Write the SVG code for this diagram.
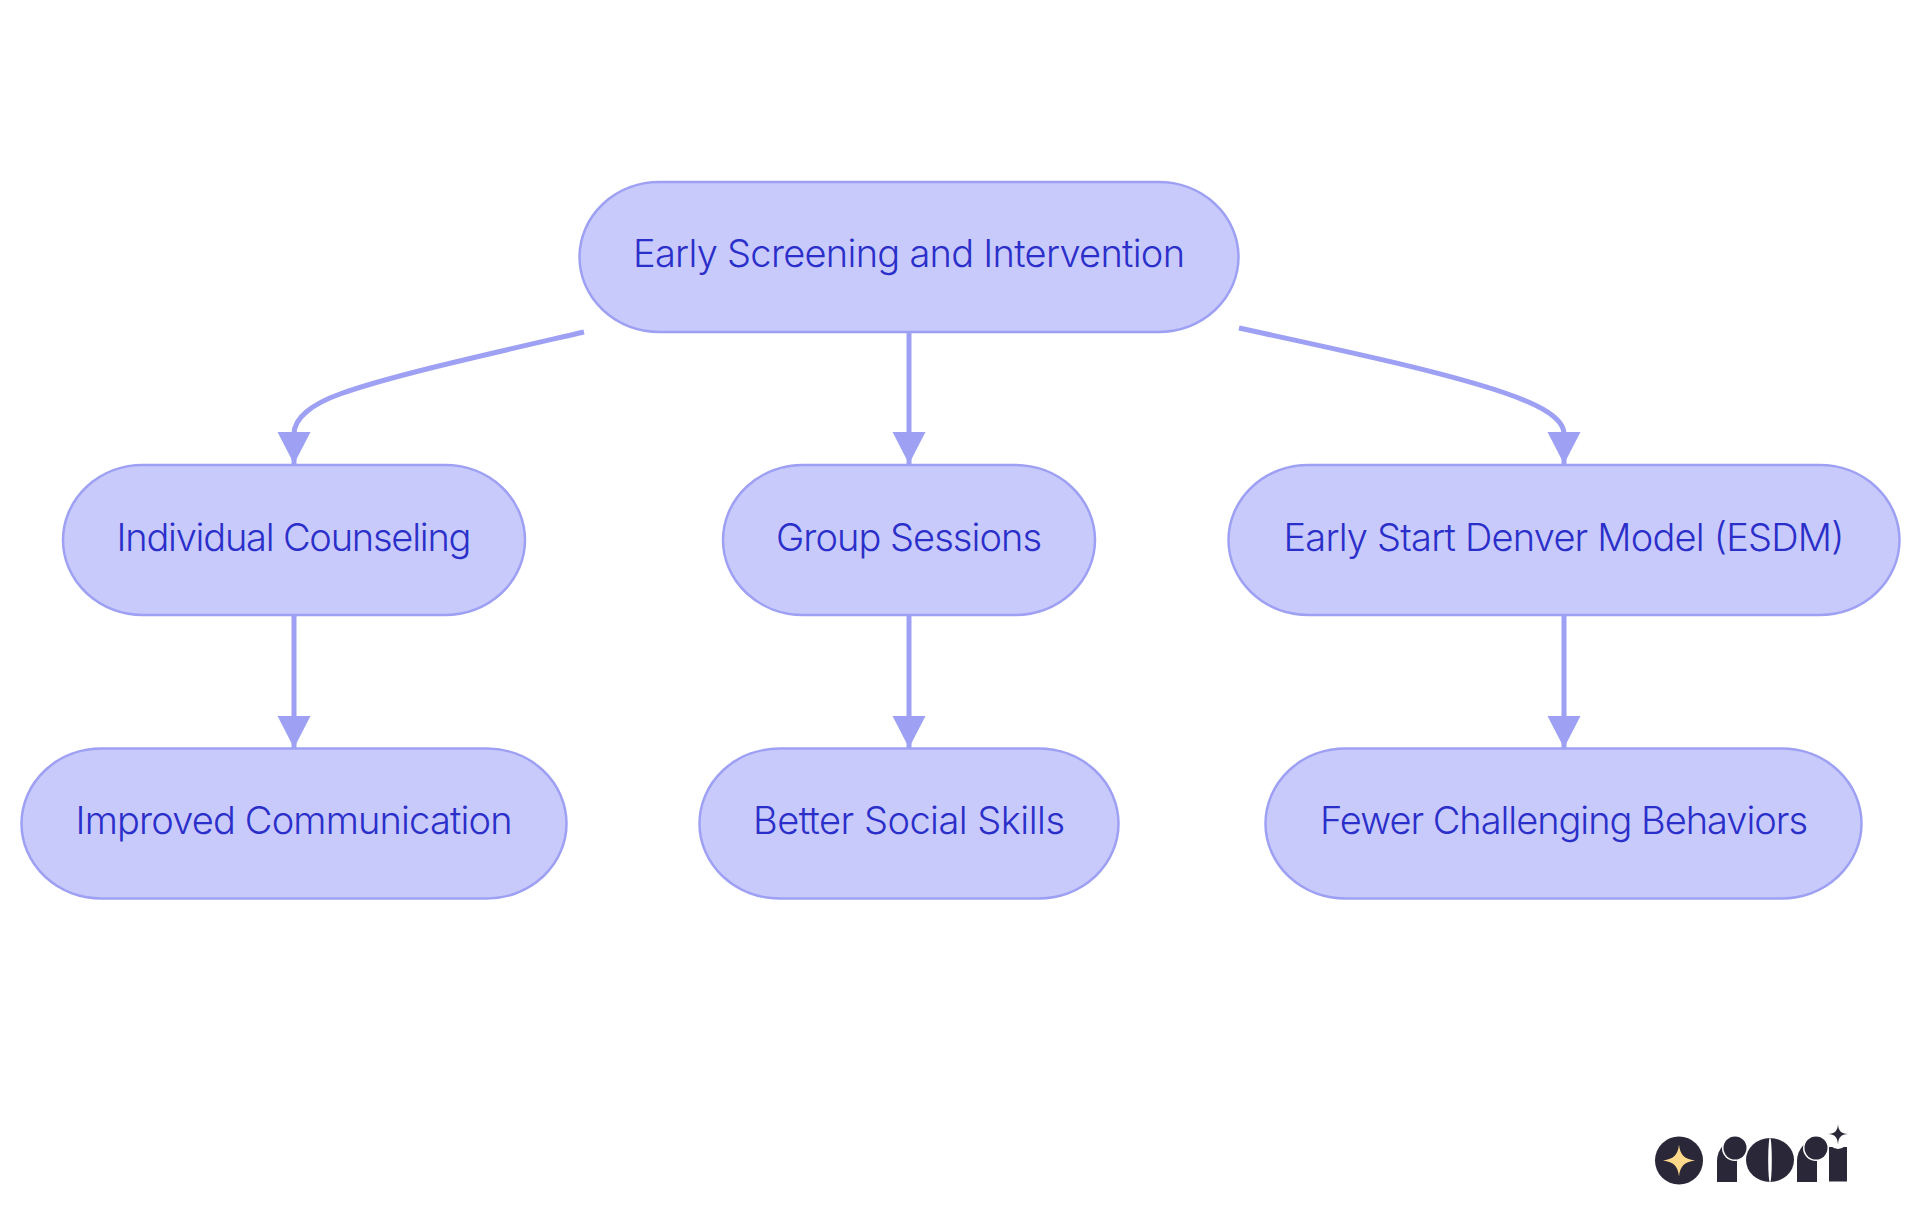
<svg xmlns="http://www.w3.org/2000/svg" width="1920" height="1215" viewBox="0 0 1920 1215">
<style>
.n{fill:#C9CAFC;stroke:#9EA1F3;stroke-width:2.5}
.t{font-family:"Inter","Noto Sans",sans-serif;font-size:38px;font-weight:300;fill:#2B2FC9;text-anchor:middle}
.e{fill:none;stroke:#9EA1F3;stroke-width:5}
.d{fill:#2A2838}
</style>
<defs>
<marker id="a" markerUnits="userSpaceOnUse" markerWidth="34" markerHeight="34" refX="16.500" refY="32" orient="0" viewBox="0 0 33 34"><path d="M0,0H33L16.500,32Z" fill="#9EA1F3"/></marker>
<clipPath id="r1"><rect x="1717" y="1138" width="20" height="44"/></clipPath>
<clipPath id="r2"><rect x="1797" y="1138" width="20" height="44"/></clipPath>
</defs>
<rect width="1920" height="1215" fill="#fff"/>
<g id="connectors">
<path class="e" marker-end="url(#a)" d="M584,332C480,356 390,376 340,394C312,404 294,418 294,434V464"/>
<path class="e" marker-end="url(#a)" d="M909,332V464"/>
<path class="e" marker-end="url(#a)" d="M1239,328C1340,350 1440,371 1505,393C1540,405 1564,418 1564,434V464"/>
<path class="e" marker-end="url(#a)" d="M294,615V748"/>
<path class="e" marker-end="url(#a)" d="M909,615V748"/>
<path class="e" marker-end="url(#a)" d="M1564,615V748"/>
</g>
<g id="n-root"><rect class="n" x="579.500" y="182" width="659" height="150" rx="80" ry="75"/><text class="t" x="909" y="267" textLength="552">Early Screening and Intervention</text></g>
<g id="n-individual"><rect class="n" x="63" y="465" width="462" height="150" rx="80" ry="75"/><text class="t" x="294" y="551" textLength="355">Individual Counseling</text></g>
<g id="n-group"><rect class="n" x="723" y="465" width="372" height="150" rx="80" ry="75"/><text class="t" x="909" y="551" textLength="266">Group Sessions</text></g>
<g id="n-esdm"><rect class="n" x="1228.500" y="465" width="671" height="150" rx="80" ry="75"/><text class="t" x="1564" y="551" textLength="561">Early Start Denver Model (ESDM)</text></g>
<g id="n-communication"><rect class="n" x="21.500" y="748.500" width="545" height="150" rx="80" ry="75"/><text class="t" x="294" y="834" textLength="437">Improved Communication</text></g>
<g id="n-social"><rect class="n" x="699.500" y="748.500" width="419" height="150" rx="80" ry="75"/><text class="t" x="909" y="834" textLength="312">Better Social Skills</text></g>
<g id="n-behaviors"><rect class="n" x="1265.500" y="748.500" width="596" height="150" rx="80" ry="75"/><text class="t" x="1564" y="834" textLength="488">Fewer Challenging Behaviors</text></g>
<g id="logo">
<circle class="d" cx="1679" cy="1160.500" r="24"/>
<path fill="#FFD98A" d="M1679,1144.500C1680,1154.500 1684,1159 1695,1160.500C1684,1162 1680,1166.500 1679,1176.500C1678,1166.500 1674,1162 1663,1160.500C1674,1159 1678,1154.500 1679,1144.500Z"/>
<rect class="d" x="1717" y="1138" width="50" height="70" rx="23" clip-path="url(#r1)"/>
<circle fill="#fff" cx="1735" cy="1148" r="13"/>
<circle class="d" cx="1735" cy="1148" r="11.500"/>
<ellipse class="d" cx="1770" cy="1160" rx="24" ry="22"/>
<ellipse fill="#fff" cx="1770" cy="1160" rx="1.800" ry="22.500"/>
<rect class="d" x="1797" y="1138" width="50" height="70" rx="23" clip-path="url(#r2)"/>
<circle fill="#fff" cx="1816" cy="1148" r="13"/>
<circle class="d" cx="1816" cy="1148" r="11.500"/>
<rect class="d" x="1829" y="1147" width="18" height="34.500"/>
<circle fill="#fff" cx="1838" cy="1139" r="10"/>
<path class="d" d="M1838,1124C1838.500,1131 1841,1133.500 1848,1134C1841,1134.500 1838.500,1137 1838,1144.500C1837.500,1137 1835,1134.500 1828,1134C1835,1133.500 1837.500,1131 1838,1124Z"/>
</g>
</svg>
